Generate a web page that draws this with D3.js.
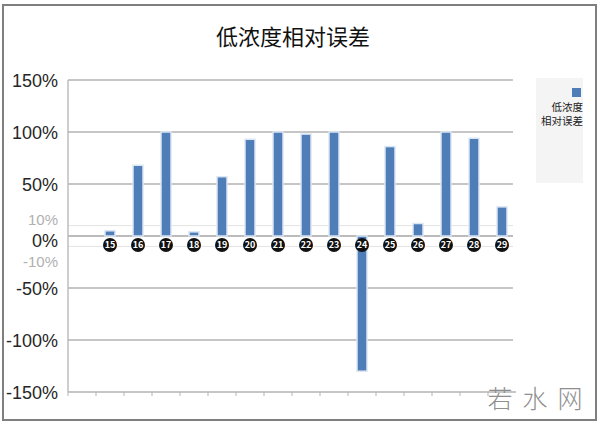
<!DOCTYPE html>
<html><head><meta charset="utf-8">
<script src="https://cdn.jsdelivr.net/npm/d3@7"></script>
<style>body{margin:0;background:#fff}svg{display:block}</style>
</head><body>
<svg id="c" width="600" height="428"></svg>
<script>
const categories = ["", "15","16","17","18","19","20","21","22","23","24","25","26","27","28","29"];
const values = [null, 5, 68, 100, 4, 57, 93, 100, 98, 100, -130, 86, 12, 100, 94, 28];
const yTicks = [150, 100, 50, 0, -50, -100, -150];
const minorTicks = [10, -10];
const title = "低浓度相对误差";
const legendLines = ["低浓度", "相对误差"];

const svg = d3.select("#c");
const font = "'Noto Sans CJK SC','Noto Sans',sans-serif";
const numFont = "'Liberation Sans',Arial,sans-serif";

// outer frame
svg.append("rect").attr("x",3).attr("y",5).attr("width",593).attr("height",415)
  .attr("fill","#fff").attr("stroke","#7f7f7f").attr("stroke-width",2);

const x = d3.scaleBand().domain(categories.map((c,i)=>i)).range([68,516]);
const y = d3.scaleLinear().domain([-150,150]).range([392,80]);

// gridlines
svg.append("g").selectAll("line").data(yTicks.filter(t=>t!==-150)).join("line")
  .attr("x1",68).attr("x2",513).attr("y1",d=>y(d)).attr("y2",d=>y(d))
  .attr("stroke",d=>d===0?"#a6a6a6":"#b3b3b3").attr("stroke-width",1.3);
svg.append("g").selectAll("line").data(minorTicks).join("line")
  .attr("x1",68).attr("x2",513).attr("y1",d=>y(d)).attr("y2",d=>y(d))
  .attr("stroke","#e3e3e3").attr("stroke-width",1);

// axes
svg.append("line").attr("x1",68).attr("x2",68).attr("y1",80).attr("y2",392).attr("stroke","#b3b3b3").attr("stroke-width",1.3);
svg.append("line").attr("x1",68).attr("x2",516).attr("y1",392).attr("y2",392).attr("stroke","#b3b3b3").attr("stroke-width",1.3);
svg.append("g").selectAll("line").data(categories.map((c,i)=>i)).join("line")
  .attr("x1",d=>x(d)).attr("x2",d=>x(d)).attr("y1",392).attr("y2",396).attr("stroke","#b3b3b3");

// y labels
svg.append("g").selectAll("text").data(yTicks).join("text")
  .attr("x",58).attr("y",d=>d===0?247:y(d)+6.5).attr("text-anchor","end")
  .attr("font-family",numFont).attr("font-size",18).attr("fill","#262626")
  .text(d=>d+"%");
svg.append("g").selectAll("text").data(minorTicks).join("text")
  .attr("x",58).attr("y",d=>d>0?225:267).attr("text-anchor","end")
  .attr("font-family",numFont).attr("font-size",15).attr("fill","#b0b0b0")
  .text(d=>d+"%");

// bars
const bw = 10;
const data = categories.map((c,i)=>({c, v:values[i], i})).filter(d=>d.v!==null);
svg.append("g").selectAll("rect").data(data).join("rect")
  .attr("x",d=>x(d.i)+x.bandwidth()/2-bw/2)
  .attr("y",d=>y(Math.max(0,d.v)))
  .attr("width",bw)
  .attr("height",d=>Math.abs(y(d.v)-y(0)))
  .attr("fill","#4f7db8").attr("stroke","#dbe6f3").attr("stroke-width",1.5);

// category labels (black circles)
const lab = svg.append("g").selectAll("g").data(data).join("g")
  .attr("transform",d=>`translate(${x(d.i)+x.bandwidth()/2},245)`);
lab.append("circle").attr("r",7).attr("fill","#111");
lab.append("text").attr("text-anchor","middle").attr("dy","0.35em")
  .attr("font-family",font).attr("font-size",9).attr("font-weight","bold").attr("fill","#fff")
  .text(d=>d.c);

// title
svg.append("text").attr("x",293).attr("y",37).attr("dy","0.35em").attr("text-anchor","middle")
  .attr("font-family",font).attr("font-size",22).attr("fill","#111").text(title);

// legend
svg.append("rect").attr("x",536).attr("y",78).attr("width",47).attr("height",105).attr("fill","#f4f4f4");
svg.append("rect").attr("x",572).attr("y",88).attr("width",9).attr("height",9).attr("fill","#4f7db8");
svg.append("g").selectAll("text").data(legendLines).join("text")
  .attr("x",583).attr("y",(d,i)=>111+i*14).attr("text-anchor","end")
  .attr("font-family",font).attr("font-size",10.5).attr("fill","#222").text(d=>d);

// watermark
svg.append("text").attr("x",540).attr("y",408).attr("text-anchor","middle")
  .attr("font-family",font).attr("font-size",25).attr("font-weight",300).attr("fill","#8f8f8f").attr("letter-spacing",10)
  .text("若水网");
</script>
</body></html>
